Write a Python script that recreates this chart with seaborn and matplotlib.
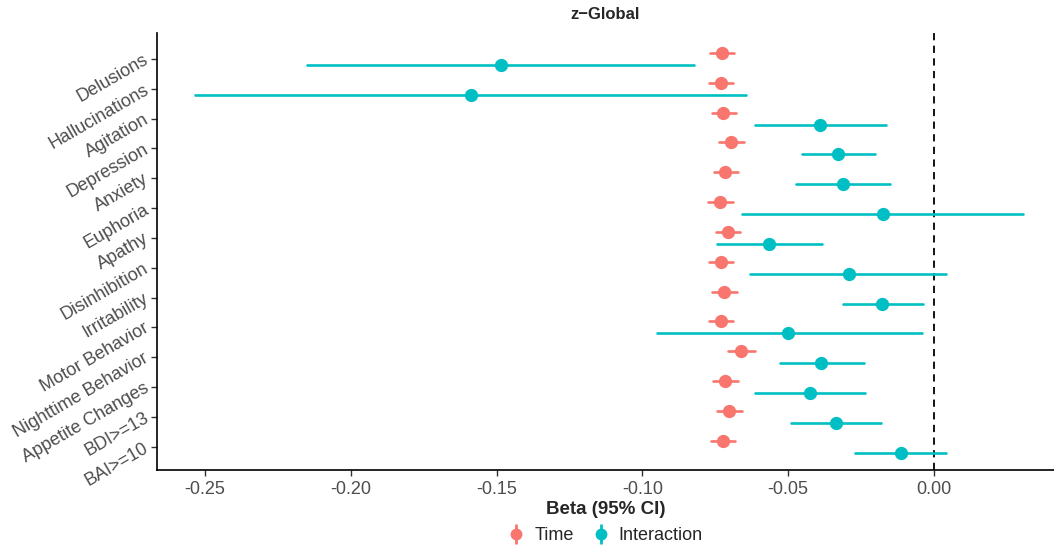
import pandas as pd
import numpy as np
import seaborn as sns
import matplotlib.pyplot as plt
from matplotlib.lines import Line2D
from matplotlib.legend_handler import HandlerTuple

# Items (top to bottom)
items = ['Delusions', 'Hallucinations', 'Agitation', 'Depression', 'Anxiety',
         'Euphoria', 'Apathy', 'Disinhibition', 'Irritability', 'Motor Behavior',
         'Nighttime Behavior', 'Appetite Changes', 'BDI>=13', 'BAI>=10']

# Time effect: estimate and 95% CI
time_est = [-0.0728, -0.0732, -0.0723, -0.0697, -0.0715, -0.0733, -0.0706,
            -0.0730, -0.0719, -0.0730, -0.0661, -0.0716, -0.0702, -0.0725]
time_lo = [-0.0768, -0.0771, -0.0762, -0.0738, -0.0755, -0.0775, -0.0748,
           -0.0771, -0.0762, -0.0771, -0.0706, -0.0758, -0.0745, -0.0766]
time_hi = [-0.0686, -0.0689, -0.0678, -0.0652, -0.0671, -0.0689, -0.0664,
           -0.0689, -0.0675, -0.0689, -0.0614, -0.0671, -0.0658, -0.0682]

# Interaction effect: estimate and 95% CI
int_est = [-0.1485, -0.1588, -0.0391, -0.0328, -0.0311, -0.0176, -0.0564,
           -0.0292, -0.0177, -0.0500, -0.0387, -0.0425, -0.0335, -0.0114]
int_lo = [-0.2150, -0.2534, -0.0612, -0.0451, -0.0472, -0.0657, -0.0745,
          -0.0630, -0.0313, -0.0951, -0.0528, -0.0612, -0.0490, -0.0269]
int_hi = [-0.0823, -0.0643, -0.0164, -0.0203, -0.0151, 0.0305, -0.0383,
          0.0043, -0.0038, -0.0041, -0.0241, -0.0235, -0.0181, 0.0043]

terms = ['Time', 'Interaction']
colors = ['#F8766D', '#00BFC4']

# Long table: lower / estimate / upper per item and term
rows = []
for i, item in enumerate(items):
    for term, lo, est, hi in [('Time', time_lo[i], time_est[i], time_hi[i]),
                              ('Interaction', int_lo[i], int_est[i], int_hi[i])]:
        for v in (lo, est, hi):
            rows.append({'item': item, 'term': term, 'beta': v})
df = pd.DataFrame(rows)

sns.set_style('white')
plt.rcParams['font.family'] = ['Liberation Sans', 'DejaVu Sans']
plt.rcParams['axes.unicode_minus'] = False

fig = plt.figure(figsize=(10.54, 5.45), dpi=100)
ax = fig.add_axes([157 / 1054, 75 / 545, 897 / 1054, 437 / 545])

sns.pointplot(data=df, x='beta', y='item', hue='term', order=items,
              hue_order=terms, palette=colors, estimator='median',
              errorbar=lambda v: (v.min(), v.max()), dodge=0.4,
              linestyle='none', markers='o', markersize=7.5,
              err_kws={'linewidth': 1.9}, legend=False, ax=ax)

ax.axvline(0, color='black', linestyle=(0, (4, 3)), linewidth=1.3, zorder=0)

ax.set_xlim(-0.2665, 0.0412)
ax.set_ylim(len(items) - 1 + 0.78, -0.87)
ax.set_xticks([-0.25, -0.20, -0.15, -0.10, -0.05, 0.00])
ax.set_xticklabels(['-0.25', '-0.20', '-0.15', '-0.10', '-0.05', '0.00'])

for side in ['top', 'right']:
    ax.spines[side].set_visible(False)
for side in ['left', 'bottom']:
    ax.spines[side].set_color('black')
    ax.spines[side].set_linewidth(1.2)

ax.tick_params(axis='both', which='both', length=4, width=1, color='#333333',
               labelsize=13, labelcolor='#4D4D4D', left=True, bottom=True)
ax.tick_params(axis='x', pad=4)
ax.tick_params(axis='y', pad=3)
for lab in ax.get_yticklabels():
    lab.set_rotation(30)
    lab.set_ha('right')
    lab.set_va('center')
    lab.set_rotation_mode('anchor')

ax.set_ylabel('')
ax.set_xlabel('Beta (95% CI)', fontsize=13.5, fontweight='bold', labelpad=2)
ax.set_title('z\u2212Global', fontsize=12, fontweight='bold', pad=10)

# Legend with point + vertical line glyphs
handles = []
for c in colors:
    dot = Line2D([], [], color=c, marker='o', linestyle='none', markersize=7.5)
    bar = Line2D([], [], color=c, marker='|', linestyle='none', markersize=15,
                 markeredgewidth=2)
    handles.append((bar, dot))
fig.legend(handles, terms, handler_map={tuple: HandlerTuple(ndivide=1)},
           loc='center', bbox_to_anchor=(605 / 1054, 9 / 545), ncol=2,
           frameon=False, fontsize=13, handlelength=1.0, columnspacing=1.0,
           handletextpad=0.5)

fig.savefig('out.png', dpi=100)
